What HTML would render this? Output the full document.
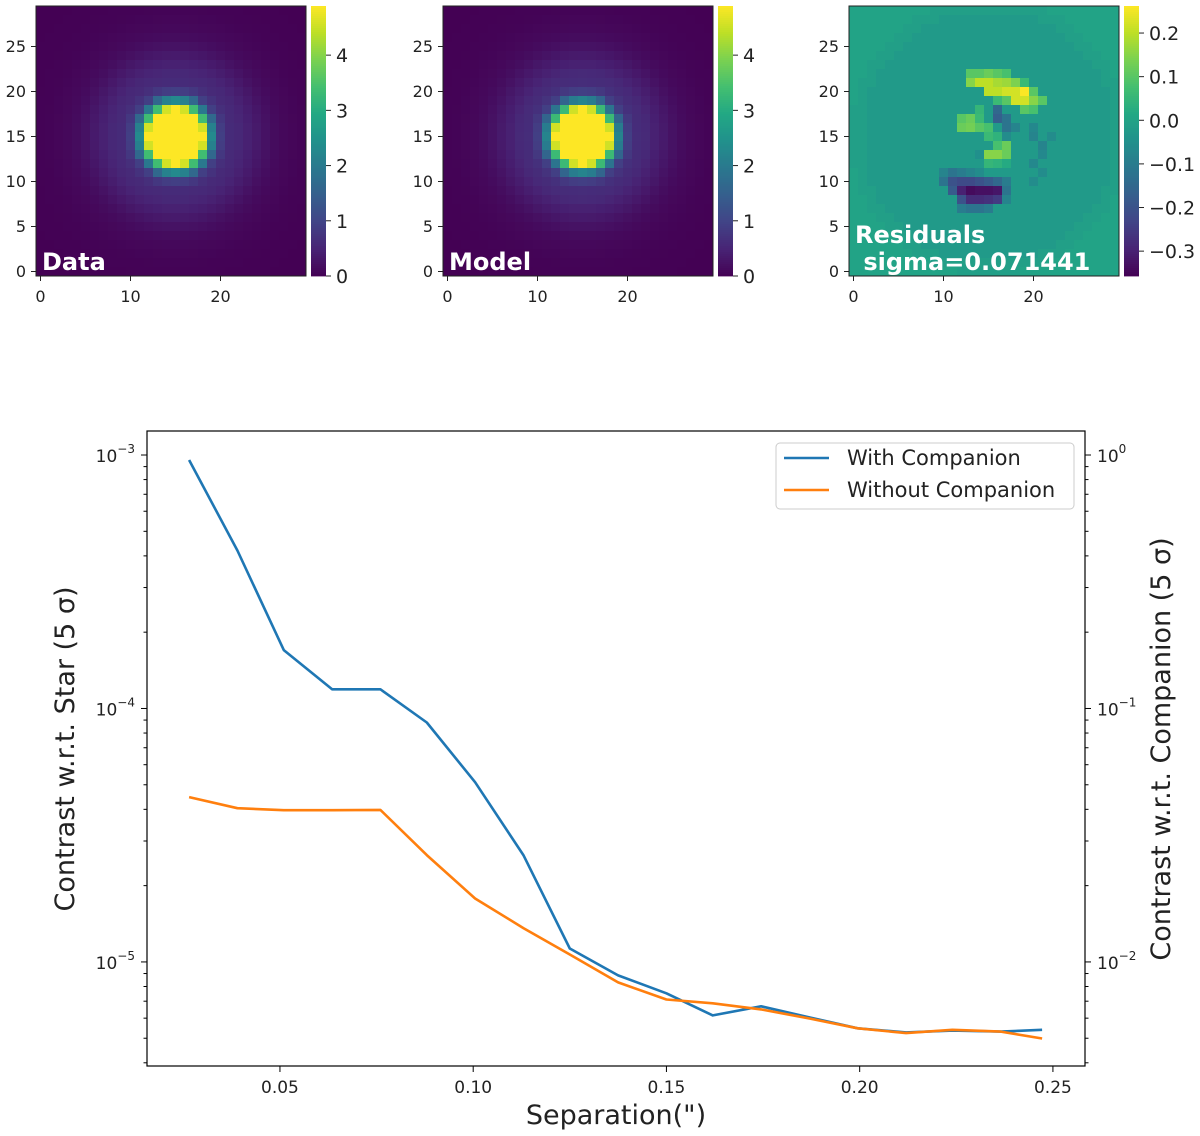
<!DOCTYPE html>
<html><head><meta charset="utf-8"><style>
html,body{margin:0;padding:0;background:#fff;}
svg{display:block;font-family:"DejaVu Sans","Liberation Sans",sans-serif;}
</style></head><body>
<svg id="fig" width="1200" height="1136" viewBox="0 0 1200 1136" xmlns="http://www.w3.org/2000/svg">
<g id="topPanels"></g>
<g id="bottomChart"></g>
</svg>
<script>
// ---------- data ----------
const psfRadius = [0,1,2,3,4,5,6,7,8,9,10,11,12,13,14,15,16,17,18,19,20,21];
const psfDataProfile = [6,6,6,5,2.3,0.9,0.6,0.55,0.45,0.35,0.24,0.15,0.1,0.07,0.04,0.03,0.02,0.01,0.01,0,0,0];
const psfModelProfile = [6,6,6,5,2.2,0.9,0.62,0.58,0.45,0.35,0.24,0.15,0.1,0.07,0.04,0.03,0.02,0.01,0.01,0,0,0];
// residual cells: [rowFromTop, col, value]
const residCells = [
 [7,13,0.1],[7,14,0.1],[7,15,0.12],[7,16,0.1],[7,17,0.08],
 [8,13,0.15],[8,14,0.2],[8,15,0.2],[8,16,0.18],[8,17,0.17],[8,18,0.14],[8,19,0.06],
 [9,15,0.2],[9,16,0.2],[9,17,0.22],[9,18,0.22],[9,19,0.26],[9,20,0.1],
 [10,16,0.06],[10,17,0.1],[10,18,0.22],[10,19,0.22],[10,20,0.15],[10,21,0.1],
 [11,14,0.05],[11,16,-0.15],[11,19,0.1],[11,20,0.08],
 [12,12,0.1],[12,13,0.12],[12,14,0.06],[12,16,-0.17],[12,17,-0.12],
 [13,12,0.12],[13,13,0.13],[13,14,0.1],[13,15,0.08],[13,17,-0.12],[13,18,-0.08],
 [14,15,0.06],[14,16,0.04],[14,17,-0.06],
 [15,16,0.08],[15,17,0.12],
 [16,14,-0.05],[16,15,0.15],[16,16,0.15],[16,17,0.12],
 [17,15,0.05],[17,16,0.04],[17,17,0.02],
 [18,10,-0.08],[18,11,-0.12],[18,12,-0.1],[18,13,-0.08],[18,14,-0.06],
 [19,10,-0.12],[19,11,-0.2],[19,12,-0.22],[19,13,-0.22],[19,14,-0.2],[19,15,-0.18],[19,16,-0.15],[19,17,-0.1],
 [20,11,-0.18],[20,12,-0.3],[20,13,-0.34],[20,14,-0.33],[20,15,-0.33],[20,16,-0.32],[20,17,-0.12],
 [21,12,-0.2],[21,13,-0.28],[21,14,-0.28],[21,15,-0.27],[21,16,-0.25],[21,17,-0.08],
 [22,12,-0.1],[22,13,-0.12],[22,14,-0.12],[22,15,-0.1],
 [13,20,-0.07],[14,20,-0.08],[15,21,-0.08],[16,21,-0.07],[17,20,-0.07],[18,21,-0.06],[19,20,-0.06],[14,22,-0.06]
];
const sepValues = [0.0265,0.039,0.051,0.0635,0.076,0.088,0.1005,0.113,0.125,0.1375,0.150,0.162,0.1745,0.187,0.1995,0.212,0.224,0.2365,0.2472];
const withCompanion = [9.56e-4,4.2e-4,1.70e-4,1.19e-4,1.19e-4,8.8e-5,5.12e-5,2.64e-5,1.13e-5,8.85e-6,7.52e-6,6.15e-6,6.68e-6,6.04e-6,5.47e-6,5.27e-6,5.36e-6,5.31e-6,5.40e-6];
const withoutCompanion = [4.47e-5,4.04e-5,3.97e-5,3.97e-5,3.98e-5,2.64e-5,1.78e-5,1.36e-5,1.07e-5,8.3e-6,7.11e-6,6.87e-6,6.5e-6,5.98e-6,5.47e-6,5.24e-6,5.40e-6,5.31e-6,4.99e-6];
const xTicks = [0.05,0.10,0.15,0.20,0.25];
const xTickLabels = ["0.05","0.10","0.15","0.20","0.25"];
const yTicksLeft = [-5,-4,-3];
const yTicksRight = [-2,-1,0];
const imgTicks = [0,5,10,15,20,25];
const imgXTicks = [0,10,20];
const cbDataTicks = [0,1,2,3,4];
const cbResTicks = [-0.3,-0.2,-0.1,0.0,0.1,0.2];
const cbResLabels = ["\u22120.3","\u22120.2","\u22120.1","0.0","0.1","0.2"];

// ---------- helpers ----------
const NS="http://www.w3.org/2000/svg";
function mk(parent,tag,attrs,text){const e=document.createElementNS(NS,tag);for(const k in attrs)e.setAttribute(k,attrs[k]);if(text!==undefined)e.textContent=text;parent.appendChild(e);return e;}
const vir=["#440154","#482475","#414487","#355f8d","#2a788e","#21918c","#22a884","#44bf70","#7ad151","#bddf26","#fde725"];
function hex(h){return[parseInt(h.substr(1,2),16),parseInt(h.substr(3,2),16),parseInt(h.substr(5,2),16)];}
function viridis(t){t=Math.max(0,Math.min(1,t));const p=t*10,i=Math.min(9,Math.floor(p)),f=p-i;const a=hex(vir[i]),b=hex(vir[i+1]);return "rgb("+a.map((v,k)=>Math.round(v+(b[k]-v)*f)).join(",")+")";}
function interp(xs,ys,x){if(x>=xs[xs.length-1])return ys[ys.length-1];for(let i=0;i<xs.length-1;i++){if(x<=xs[i+1]){const f=(x-xs[i])/(xs[i+1]-xs[i]);return ys[i]+(ys[i+1]-ys[i])*f;}}return ys[0];}

const topG=document.getElementById('topPanels');
const CELL=9;
function panel(x0,name,label,grid,vmin,vmax,cbTicks,cbLabels,label2){
  const y0=6;
  const g=mk(topG,'g',{});
  
  
  for(let r=0;r<30;r++)for(let c=0;c<30;c++){
    const v=grid[r][c];
    const rc=mk(g,'rect',{x:x0+c*CELL,y:y0+r*CELL,width:CELL+0.4,height:CELL+0.4,fill:viridis((v-vmin)/(vmax-vmin))});
    
    
  }
  const fr=mk(g,'rect',{x:x0,y:y0,width:270,height:270,fill:'none',stroke:'#222','stroke-width':1});
  
  
  imgTicks.forEach(t=>{const yy=y0+(29-t)*CELL+4.5;mk(g,'line',{x1:x0,x2:x0-5,y1:yy,y2:yy,stroke:'#222'});
    const tx=mk(g,'text',{x:x0-10,y:yy+5.5,'text-anchor':'end','font-size':16,fill:'#222'},String(t));
    });
  imgXTicks.forEach(t=>{const xx=x0+t*CELL+4.5;mk(g,'line',{x1:xx,x2:xx,y1:y0+270,y2:y0+275,stroke:'#222'});
    const tx=mk(g,'text',{x:xx,y:y0+296,'text-anchor':'middle','font-size':16,fill:'#222'},String(t));
    });
  const lb=mk(g,'text',{x:x0+6,y:label2?y0+237:y0+264,'font-size':24,'font-weight':'bold',fill:'#fff'},label);
  
  if(label2){const l2=mk(g,'text',{x:x0+6,y:y0+264,'font-size':24,'font-weight':'bold',fill:'#fff',style:'white-space:pre'},label2);
    }
  const cx=x0+275,cw=15;
  const cb=mk(g,'g',{});
  
  for(let i=0;i<135;i++){mk(cb,'rect',{x:cx,y:y0+i*2,width:cw,height:2.4,fill:viridis(1-(i+0.5)/135)});}
  cbTicks.forEach((t,i)=>{const yy=y0+270*(vmax-t)/(vmax-vmin);mk(cb,'line',{x1:cx+cw,x2:cx+cw+5,y1:yy,y2:yy,stroke:'#222'});
    const tx=mk(cb,'text',{x:cx+cw+10,y:yy+7,'font-size':19,fill:'#222'},cbLabels[i]);
    });
}
function radialGrid(profile){const g=[];for(let r=0;r<30;r++){g.push([]);for(let c=0;c<30;c++){const dy=(29-r)-15,dx=c-15;g[r].push(interp(psfRadius,profile,Math.sqrt(dx*dx+dy*dy)));}}return g;}
function residGrid(){const g=[];for(let r=0;r<30;r++){g.push([]);for(let c=0;c<30;c++){const dy=(29-r)-15,dx=c-15;const d=Math.sqrt(dx*dx+dy*dy);g[r].push(d<14?-0.022:(d<15.5?-0.01:0.0));}}
  residCells.forEach(([r,c,v])=>{g[r][c]=v;});return g;}
panel(36,'data','Data',radialGrid(psfDataProfile),0,4.89,cbDataTicks,cbDataTicks.map(String));
panel(443,'model','Model',radialGrid(psfModelProfile),0,4.89,cbDataTicks,cbDataTicks.map(String));
panel(849,'residuals','Residuals',residGrid(),-0.357,0.262,cbResTicks,cbResLabels,' sigma=0.071441');

// ---------- bottom chart ----------
const B=document.getElementById('bottomChart');
const L=147,R=1085,T=431,BOT=1066;
const xMin=0.0156,xMax=0.2583;
const yLogTop=-3+24/253.3,yLogBot=-5-104/253.3;
const xS=v=>L+(v-xMin)/(xMax-xMin)*(R-L);
const yS=v=>T+(yLogTop-Math.log10(v))/(yLogTop-yLogBot)*(BOT-T);
const frame=mk(B,'rect',{x:L,y:T,width:R-L,height:BOT-T,fill:'none',stroke:'#000','stroke-width':1.2});

xTicks.forEach((t,i)=>{const xx=xS(t);mk(B,'line',{x1:xx,x2:xx,y1:BOT,y2:BOT+6,stroke:'#000'});
  const tx=mk(B,'text',{x:xx,y:BOT+27,'text-anchor':'middle','font-size':17,fill:'#222'},xTickLabels[i]);
  });
function logTicks(side,majors,offset){
  const xEdge=side==='L'?L:R,dir=side==='L'?-1:1;
  for(let d=-6;d<=-2;d++)for(let m=1;m<10;m++){const v=m*Math.pow(10,d);const lv=Math.log10(v);if(lv>yLogTop||lv<yLogBot)continue;const yy=yS(v);
    mk(B,'line',{x1:xEdge,x2:xEdge+dir*(m===1?6:3.5),y1:yy,y2:yy,stroke:'#000'});}
  majors.forEach(e=>{const yy=yS(Math.pow(10,e-offset));
    const tx=mk(B,'text',{x:side==='L'?xEdge-12:xEdge+12,y:yy+7,'text-anchor':side==='L'?'end':'start','font-size':17,fill:'#222'});
    
    mk(tx,'tspan',{},'10');mk(tx,'tspan',{dy:-9,'font-size':12},e<0?'\u2212'+(-e):String(e));});
}
logTicks('L',yTicksLeft,0);
logTicks('R',yTicksRight,3);
function series(vals,color,name){const d=sepValues.map((x,i)=>(i?'L':'M')+xS(x).toFixed(1)+','+yS(vals[i]).toFixed(1)).join(' ');
  const p=mk(B,'path',{d:d,fill:'none',stroke:color,'stroke-width':2.6,'stroke-linejoin':'round'});
  }
series(withCompanion,'#1f77b4','with-companion-line');
series(withoutCompanion,'#ff7f0e','without-companion-line');
const lg=mk(B,'g',{});

mk(lg,'rect',{x:776,y:443,width:298,height:66,rx:4,fill:'#fff','fill-opacity':0.8,stroke:'#ccc'});
[['With Companion','#1f77b4',458],['Without Companion','#ff7f0e',490]].forEach(([t,c,y])=>{
  const e=mk(lg,'g',{});
  mk(e,'line',{x1:784,x2:829,y1:y,y2:y,stroke:c,'stroke-width':2.6});
  mk(e,'text',{x:847,y:y+7,'font-size':21,fill:'#222'},t);});
const xl=mk(B,'text',{x:(L+R)/2,y:1124,'text-anchor':'middle','font-size':27,fill:'#222'},'Separation(")');

const yl=mk(B,'text',{x:0,y:0,transform:'translate(74,749) rotate(-90)','text-anchor':'middle','font-size':27,fill:'#222'},'Contrast w.r.t. Star (5 \u03c3)');

const yr=mk(B,'text',{x:0,y:0,transform:'translate(1170,749) rotate(-90)','text-anchor':'middle','font-size':27,fill:'#222'},'Contrast w.r.t. Companion (5 \u03c3)');

</script>
</body></html>
